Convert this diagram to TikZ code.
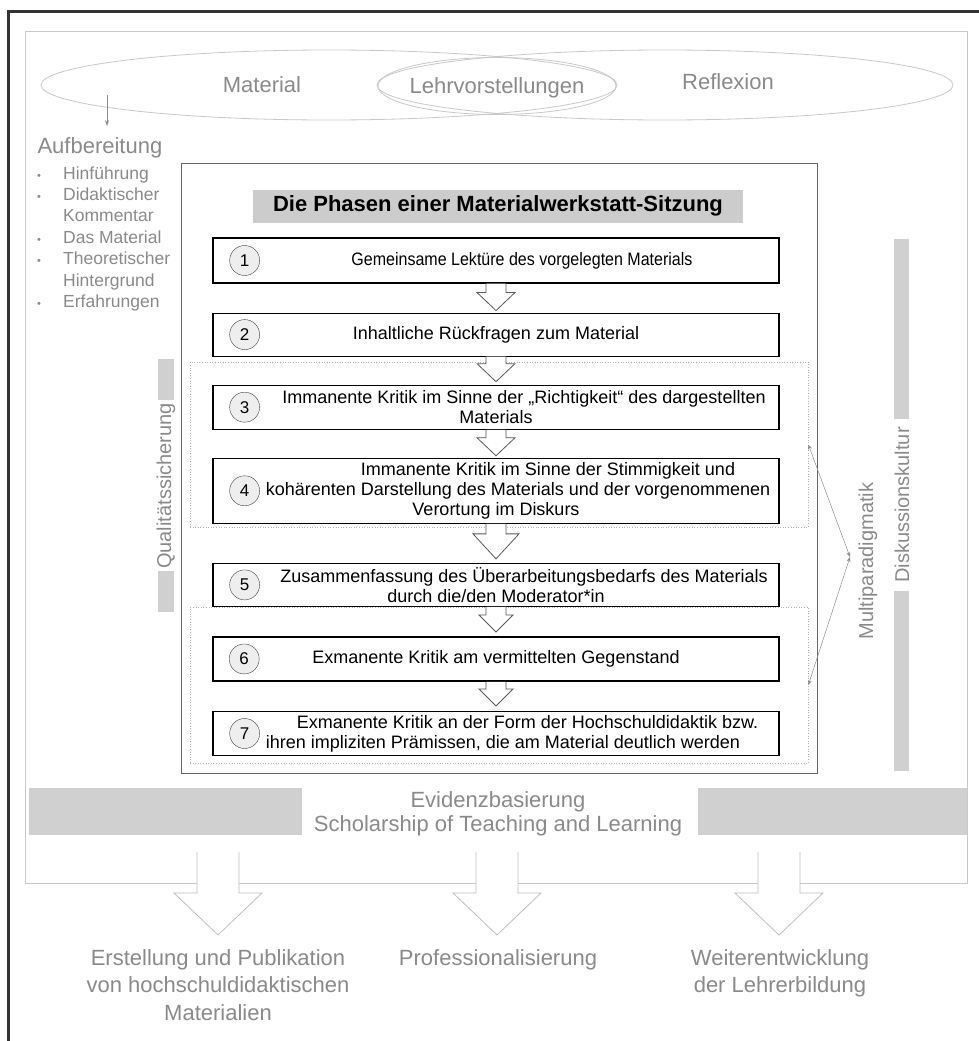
\documentclass[tikz,border=0pt]{standalone}
\usepackage{fontspec}
\setmainfont{Liberation Sans}
\usetikzlibrary{positioning, calc}
\usetikzlibrary{shapes,arrows.meta}

\definecolor{framegray}{HTML}{C8C8C8}
\definecolor{labelgray}{HTML}{8A8A8A}
\definecolor{bargray}{HTML}{D0D0D0}
\definecolor{titlegray}{HTML}{CCCCCC}
\definecolor{circlefill}{HTML}{EEEEEE}

\tikzstyle{ell} = [ellipse, draw=framegray, line width=0.8pt, inner sep=0pt]
\tikzstyle{graylabel} = [text=labelgray, align=center, font=\fontsize{22}{27.5}\selectfont]
\tikzstyle{sidelabel} = [text=labelgray, font=\fontsize{20}{22}\selectfont, inner sep=1pt]
\tikzstyle{stepbox} = [rectangle, draw=black, line width=1.1pt, minimum width=566pt,
    align=center, inner sep=2pt, font=\fontsize{18}{20}\selectfont]
\tikzstyle{numcirc} = [circle, draw=black!75, fill=circlefill, minimum size=30pt,
    inner sep=0pt, font=\fontsize{17}{17}\selectfont]
\tikzstyle{groupbox} = [draw=black!30, dotted, line width=0.6pt]
\tikzstyle{blockarr} = [draw=black!65, fill=white, line width=0.8pt, line join=miter]
\tikzstyle{thinarr} = [draw=black!45, line width=0.5pt, {Stealth[length=5pt,width=4pt]}-{Stealth[length=5pt,width=4pt]}]

% hollow block arrow: from, to, shaft half width, head half width, head length
\newcommand{\blockarrow}[6][]{%
  \draw[blockarr,#1] let \p1=(#2), \p2=(#3) in
    (\x1-#4pt,\y1) -- (\x1-#4pt,\y2+#6pt) -- (\x1-#5pt,\y2+#6pt) -- (\x1,\y2)
    -- (\x1+#5pt,\y2+#6pt) -- (\x1+#4pt,\y2+#6pt) -- (\x1+#4pt,\y1);
}

\begin{document}
\begin{tikzpicture}[x=1pt, y=-1pt]
  \useasboundingbox (0,0) rectangle (979,1041);
  % frames
  \draw[line width=3pt, black!80] (8,1060) -- (8,12) -- (990,12);
  \draw[framegray, line width=1pt] (25,32) rectangle (967,883);

  % the three fields on top
  \node[ell, minimum width=576pt, minimum height=70pt] (matell) at (329,85) {};
  \node[ell, minimum width=576pt, minimum height=70pt] (refell) at (665,85) {};
  \node[ell, minimum width=238pt, minimum height=57pt] (lehrell) at (497,86) {};
  \node[graylabel] (mat) at (262,85) {Material};
  \node[graylabel] (lehr) at (497,88) {Lehrvorstellungen};
  \node[graylabel] (refl) at (728,82) {Reflexion};

  % Aufbereitung
  \node[graylabel, anchor=west] (aufb) at (34,148) {Aufbereitung};
  \coordinate (arrstart) at (107,95);
  \draw[black!45, line width=0.5pt, -{Stealth[length=6pt,width=4pt]}] (arrstart) -- ([yshift=8pt]aufb.north -| arrstart);
  \node[anchor=north west, inner sep=0pt, text=labelgray, font=\fontsize{17.5}{21.4}\selectfont] (items) at (37,164) {%
    \begin{tabular}{@{}p{26pt}@{}l@{}}
      {\fontsize{11}{11}\selectfont•} & Hinführung\\
      {\fontsize{11}{11}\selectfont•} & Didaktischer\\
       & Kommentar\\
      {\fontsize{11}{11}\selectfont•} & Das Material\\
      {\fontsize{11}{11}\selectfont•} & Theoretischer\\
       & Hintergrund\\
      {\fontsize{11}{11}\selectfont•} & Erfahrungen
    \end{tabular}};

  % phases box
  \node[draw=black!60, line width=0.8pt, minimum width=636pt, minimum height=610pt] (phasen) at (499,468) {};
  \node[fill=titlegray, minimum width=490pt, minimum height=33pt, font=\fontsize{22}{24}\selectfont\bfseries] (title) at (498,206) {Die Phasen einer Materialwerkstatt-Sitzung};
  \node[groupbox, minimum width=618pt, minimum height=165pt] (grp1) at (499,444.5) {};
  \node[groupbox, minimum width=618pt, minimum height=156pt] (grp2) at (499,685) {};

  % steps
  \node[stepbox, minimum height=45pt] (s1) at (496,260.5) {\hspace*{52pt}\scalebox{0.89}[1]{Gemeinsame Lektüre des vorgelegten Materials}};
  \node[stepbox, minimum height=43pt, below=29pt of s1] (s2) {Inhaltliche Rückfragen zum Material};
  \node[stepbox, minimum height=44pt, below=28pt of s2] (s3) {\hspace*{56pt}Immanente Kritik im Sinne der „Richtigkeit“ des dargestellten\\Materials};
  \node[stepbox, minimum height=65pt, below=28pt of s3] (s4) {\hspace*{104pt}Immanente Kritik im Sinne der Stimmigkeit und\\\hspace*{44pt}kohärenten Darstellung des Materials und der vorgenommenen\\Verortung im Diskurs};
  \node[stepbox, minimum height=43pt, below=39pt of s4] (s5) {\hspace*{56pt}Zusammenfassung des Überarbeitungsbedarfs des Materials\\durch die/den Moderator*in};
  \node[stepbox, minimum height=44pt, line width=2pt, below=29pt of s5] (s6) {Exmanente Kritik am vermittelten Gegenstand};
  \node[stepbox, minimum height=44pt, below=29pt of s6] (s7) {\hspace*{63pt}Exmanente Kritik an der Form der Hochschuldidaktik bzw.\\\hspace*{14pt}ihren impliziten Prämissen, die am Material deutlich werden};

  \node[numcirc, right=17pt of s1.west] (c1) {1};
  \node[numcirc, right=17pt of s2.west] (c2) {2};
  \node[numcirc, right=17pt of s3.west] (c3) {3};
  \node[numcirc, right=17pt of s4.west] (c4) {4};
  \node[numcirc, right=17pt of s5.west] (c5) {5};
  \node[numcirc, right=17pt of s6.west] (c6) {6};
  \node[numcirc, right=17pt of s7.west] (c7) {7};

  \blockarrow{s1.south}{[yshift=2pt]s2.north}{10}{19}{18}
  \blockarrow{s2.south}{[yshift=3pt]s3.north}{10}{19}{18}
  \blockarrow{s3.south}{[yshift=2pt]s4.north}{10}{19}{18}
  \blockarrow{s4.south}{[yshift=4pt]s5.north}{10}{23}{25}
  \blockarrow{s5.south}{[yshift=4pt]s6.north}{10}{17}{17}
  \blockarrow{s6.south}{[yshift=5pt]s7.north}{10}{17}{17}

  % side labels
  \fill[bargray] (158,359) rectangle (174,400);
  \fill[bargray] (158,571) rectangle (174,612);
  \node[sidelabel, rotate=90] (qs) at (166,486) {Qualitätssicherung};
  \fill[bargray] (894,239) rectangle (909,419);
  \fill[bargray] (894,591) rectangle (909,771);
  \node[sidelabel, rotate=90] (disk) at (902,505) {Diskussionskultur};
  \node[sidelabel, rotate=90] (multi) at (868,561) {Multiparadigmatik};
  \coordinate (mp) at (850,557);
  \draw[thinarr] (mp) -- (grp1.east);
  \draw[thinarr] (mp) -- (grp2.east);

  % evidence bar
  \fill[bargray] (29,788) rectangle (302,835);
  \fill[bargray] (698,788) rectangle (967,835);
  \node[graylabel, font=\fontsize{22}{24}\selectfont] (evid) at (498,814) {Evidenzbasierung\\Scholarship of Teaching and Learning};

  % outcomes
  \node[graylabel, anchor=north] (out1) at (218,946) {Erstellung und Publikation\\von hochschuldidaktischen\\Materialien};
  \node[graylabel, anchor=north] (out2) at (498,946) {Professionalisierung};
  \node[graylabel, anchor=north] (out3) at (780,946) {Weiterentwicklung\\der Lehrerbildung};
  \coordinate (b1) at (218,852);
  \coordinate (b2) at (497,852);
  \coordinate (b3) at (779,852);
  \blockarrow[draw=black!25]{b1}{[yshift=11pt]out1.north}{21}{44}{42}
  \blockarrow[draw=black!25]{b2}{[yshift=11pt]out2.north}{21}{44}{42}
  \blockarrow[draw=black!25]{b3}{[yshift=11pt]out3.north}{21}{44}{42}
\end{tikzpicture}
\end{document}
